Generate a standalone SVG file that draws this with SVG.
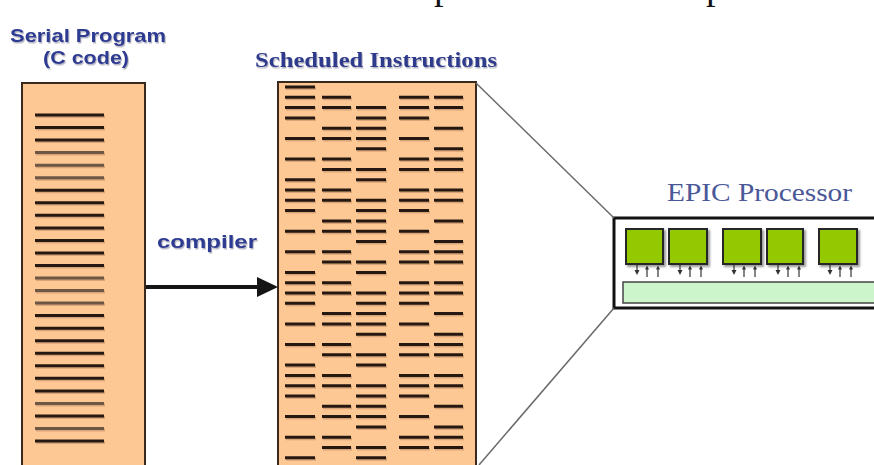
<svg xmlns="http://www.w3.org/2000/svg" xmlns:xlink="http://www.w3.org/1999/xlink" width="874" height="465" viewBox="0 0 874 465">
<style>
.ttl{font-family:"Liberation Sans",Arial,sans-serif;font-weight:bold;fill:#2d3b92}
.ttls{font-family:"Liberation Serif","Times New Roman",serif;font-weight:bold;fill:#2d3b8c}
.ser{font-family:"Liberation Serif","Times New Roman",serif}
.box{fill:#fec894;stroke:#3a2a1e;stroke-width:2}
.ln{fill:none;stroke:#241810;stroke-width:3}
.lnl{fill:none;stroke:#6e5644;stroke-width:3}
.sh{fill:none;stroke:#b98660;stroke-width:3;opacity:.55}
.cu{fill:#94c800;stroke:#262626;stroke-width:2}
.tiny{stroke:#333;stroke-width:1.2;fill:none}
.tinyh{fill:#333}
.zoom{stroke:#6a6a6a;stroke-width:1.5;fill:none}
</style>
<defs>
<filter id="ts" x="-10%" y="-20%" width="120%" height="160%"><feDropShadow dx="1" dy="1.5" stdDeviation="0.6" flood-color="#7a7a90" flood-opacity="0.55"/></filter>
<filter id="bs" x="-10%" y="-10%" width="130%" height="130%"><feDropShadow dx="2" dy="2" stdDeviation="0.8" flood-color="#555" flood-opacity="0.6"/></filter>
<path id="blk" d="M285 97.3h30M322 97.3h29M399 97.3h30M434 97.3h29M285 107.6h30M322 107.6h29M356 107.6h30M399 107.6h30M434 107.6h29M285 117.9h30M356 117.9h30M399 117.9h30M322 128.2h29M356 128.2h30M434 128.2h29M285 138.5h30M322 138.5h29M356 138.5h30M399 138.5h30M356 148.8h30M434 148.8h29M285 159.1h30M322 159.1h29M399 159.1h30M434 159.1h29M322 169.4h29M356 169.4h30M399 169.4h30M434 169.4h29M285 179.7h30M356 179.7h30"/>
<g id="arr">
<line class="tiny" x1="11" y1="265" x2="11" y2="271"/>
<polygon class="tinyh" points="8.5,270 13.5,270 11,275"/>
<line class="tiny" x1="21" y1="269" x2="21" y2="277"/>
<polygon class="tinyh" points="19,269.5 23,269.5 21,265.5"/>
<line class="tiny" x1="32" y1="269" x2="32" y2="277"/>
<polygon class="tinyh" points="30,269.5 34,269.5 32,265.5"/>
</g>
</defs>
<rect width="874" height="465" fill="#ffffff"/>

<g id="fragments">
<text class="ser" x="434" y="-1.5" font-size="38" fill="#111">p</text>
<text class="ser" x="706" y="-1.5" font-size="38" fill="#111">p</text>
</g>

<g id="serial-program">
<text class="ttl" x="88" y="42" font-size="19" text-anchor="middle" textLength="156" lengthAdjust="spacingAndGlyphs" filter="url(#ts)">Serial Program</text>
<text class="ttl" x="86" y="64" font-size="19" text-anchor="middle" textLength="86" lengthAdjust="spacingAndGlyphs" filter="url(#ts)">(C code)</text>
<rect class="box" x="22" y="83" width="123" height="390"/>
<path class="sh" transform="translate(1,1.5)" d="M35 115h69M35 127.5h69M35 140.1h69M35 152.6h69M35 165.2h69M35 177.7h69M35 190.2h69M35 202.8h69M35 215.3h69M35 227.9h69M35 240.4h69M35 252.9h69M35 265.5h69M35 278h69M35 290.6h69M35 303.1h69M35 315.6h69M35 328.2h69M35 340.7h69M35 353.3h69M35 365.8h69M35 378.3h69M35 390.9h69M35 403.4h69M35 416h69M35 428.5h69M35 441h69"/>
<path class="ln" d="M35 115h69M35 127.5h69M35 140.1h69M35 190.2h69M35 202.8h69M35 215.3h69M35 227.9h69M35 240.4h69M35 252.9h69M35 265.5h69M35 315.6h69M35 328.2h69M35 340.7h69M35 353.3h69M35 365.8h69M35 378.3h69M35 390.9h69M35 416h69M35 441h69"/>
<path class="lnl" d="M35 152.6h69M35 165.2h69M35 177.7h69M35 278h69M35 290.6h69M35 303.1h69M35 403.4h69M35 428.5h69"/>
</g>

<g id="scheduled-instructions">
<text class="ttls" x="255" y="67" font-size="20" textLength="242" lengthAdjust="spacingAndGlyphs" filter="url(#ts)">Scheduled Instructions</text>
<rect class="box" x="278" y="82" width="198" height="392"/>
<g transform="translate(1,1.5)">
<path class="sh" d="M285 87h30"/>
<use xlink:href="#blk" href="#blk" class="sh"/>
<use xlink:href="#blk" href="#blk" class="sh" transform="translate(0,92.7)"/>
<use xlink:href="#blk" href="#blk" class="sh" transform="translate(0,185.4)"/>
<use xlink:href="#blk" href="#blk" class="sh" transform="translate(0,278.1)"/>
</g>
<path class="ln" d="M285 87h30"/>
<use xlink:href="#blk" href="#blk" class="ln"/>
<use xlink:href="#blk" href="#blk" class="ln" transform="translate(0,92.7)"/>
<use xlink:href="#blk" href="#blk" class="ln" transform="translate(0,185.4)"/>
<use xlink:href="#blk" href="#blk" class="ln" transform="translate(0,278.1)"/>
</g>

<g id="compiler-label">
<text class="ttl" x="157" y="248" font-size="19" textLength="100" lengthAdjust="spacingAndGlyphs" filter="url(#ts)">compiler</text>
</g>

<g id="epic-processor">
<text class="ser" x="667" y="201" font-size="25" fill="#4a5898" textLength="185" lengthAdjust="spacingAndGlyphs">EPIC Processor</text>
<rect x="614" y="218" width="290" height="90" fill="#ffffff" stroke="#111" stroke-width="3"/>
<g id="cu1"><rect class="cu" x="626" y="229" width="37" height="35" filter="url(#bs)"/><use xlink:href="#arr" href="#arr" x="626"/></g>
<g id="cu2"><rect class="cu" x="669" y="229" width="38" height="35" filter="url(#bs)"/><use xlink:href="#arr" href="#arr" x="669"/></g>
<g id="cu3"><rect class="cu" x="723" y="229" width="38" height="35" filter="url(#bs)"/><use xlink:href="#arr" href="#arr" x="723"/></g>
<g id="cu4"><rect class="cu" x="767" y="229" width="36" height="35" filter="url(#bs)"/><use xlink:href="#arr" href="#arr" x="767"/></g>
<g id="cu5"><rect class="cu" x="819" y="229" width="38" height="35" filter="url(#bs)"/><use xlink:href="#arr" href="#arr" x="819"/></g>
<rect id="bus" x="623" y="282" width="280" height="21" fill="#ccf5cc" stroke="#444" stroke-width="1.5"/>
</g>

<g id="connectors">
<line x1="146" y1="287" x2="260" y2="287" stroke="#151515" stroke-width="4"/>
<polygon points="257,277 278,287 257,297" fill="#151515"/>
<line class="zoom" x1="476" y1="83" x2="614" y2="218"/>
<line class="zoom" x1="614" y1="308" x2="479" y2="465"/>
</g>
</svg>
